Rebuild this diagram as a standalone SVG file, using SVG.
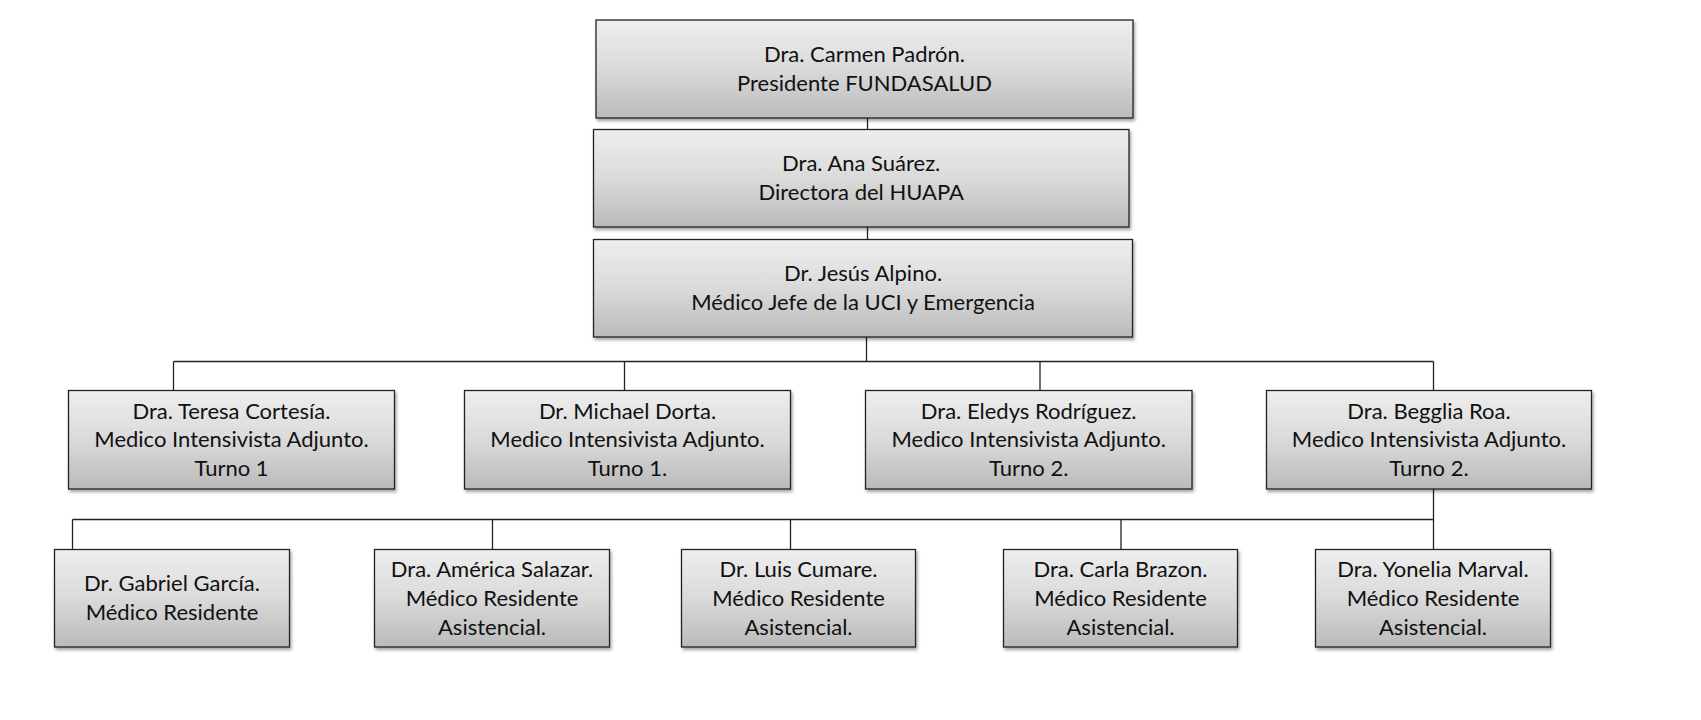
<svg xmlns="http://www.w3.org/2000/svg" width="1701" height="720" viewBox="0 0 1701 720">
<defs>
<linearGradient id="g" x1="0" y1="0" x2="0" y2="1">
<stop offset="0" stop-color="#eeeeee"/>
<stop offset="0.5" stop-color="#dadada"/>
<stop offset="1" stop-color="#bababa"/>
</linearGradient>
<filter id="sh" x="-5%" y="-5%" width="110%" height="120%">
<feDropShadow dx="1.5" dy="2.5" stdDeviation="1.5" flood-color="#000" flood-opacity="0.35"/>
</filter>
</defs>
<style>
.box{fill:url(#g);stroke:#222;stroke-width:1.3;filter:url(#sh)}
.t{font-family:Lato,"Liberation Sans",sans-serif;font-size:22px;fill:#111;text-anchor:middle}
.c{stroke:#222;stroke-width:1.3;fill:none}
</style>
<rect width="1701" height="720" fill="#fff"/>
<g id="connectors">
<line class="c" x1="867.5" y1="118" x2="867.5" y2="129.5"/>
<line class="c" x1="867.5" y1="227" x2="867.5" y2="239.5"/>
<line class="c" x1="866.5" y1="337" x2="866.5" y2="361.5"/>
<line class="c" x1="173.5" y1="361.5" x2="1433.5" y2="361.5"/>
<line class="c" x1="173.5" y1="361.5" x2="173.5" y2="390.5"/>
<line class="c" x1="624.5" y1="361.5" x2="624.5" y2="390.5"/>
<line class="c" x1="1040" y1="361.5" x2="1040" y2="390.5"/>
<line class="c" x1="1433.5" y1="361.5" x2="1433.5" y2="390.5"/>
<line class="c" x1="1433.5" y1="489" x2="1433.5" y2="549.5"/>
<line class="c" x1="72.5" y1="519.5" x2="1433.5" y2="519.5"/>
<line class="c" x1="72.5" y1="519.5" x2="72.5" y2="549.5"/>
<line class="c" x1="492.5" y1="519.5" x2="492.5" y2="549.5"/>
<line class="c" x1="790.5" y1="519.5" x2="790.5" y2="549.5"/>
<line class="c" x1="1121" y1="519.5" x2="1121" y2="549.5"/>
</g>
<g id="n-padron">
<rect class="box" x="596" y="20" width="537" height="98"/>
<text class="t" x="864.5" y="62.2">Dra. Carmen Padrón.</text>
<text class="t" x="864.5" y="90.9">Presidente FUNDASALUD</text>
</g>
<g id="n-suarez">
<rect class="box" x="593.5" y="129.5" width="535.5" height="97.5"/>
<text class="t" x="861.2" y="171.4">Dra. Ana Suárez.</text>
<text class="t" x="861.2" y="200.1">Directora del HUAPA</text>
</g>
<g id="n-alpino">
<rect class="box" x="593.5" y="239.5" width="539" height="97.5"/>
<text class="t" x="863" y="281.4">Dr. Jesús Alpino.</text>
<text class="t" x="863" y="310.1">Médico Jefe de la UCI y Emergencia</text>
</g>
<g id="n-cortesia">
<rect class="box" x="68.5" y="390.5" width="326" height="98.5"/>
<text class="t" x="231.5" y="418.6">Dra. Teresa Cortesía.</text>
<text class="t" x="231.5" y="447.3">Medico Intensivista Adjunto.</text>
<text class="t" x="231.5" y="476">Turno 1</text>
</g>
<g id="n-dorta">
<rect class="box" x="464.5" y="390.5" width="326" height="98.5"/>
<text class="t" x="627.5" y="418.6">Dr. Michael Dorta.</text>
<text class="t" x="627.5" y="447.3">Medico Intensivista Adjunto.</text>
<text class="t" x="627.5" y="476">Turno 1.</text>
</g>
<g id="n-rodriguez">
<rect class="box" x="865.5" y="390.5" width="326.5" height="98.5"/>
<text class="t" x="1028.7" y="418.6">Dra. Eledys Rodríguez.</text>
<text class="t" x="1028.7" y="447.3">Medico Intensivista Adjunto.</text>
<text class="t" x="1028.7" y="476">Turno 2.</text>
</g>
<g id="n-roa">
<rect class="box" x="1266.5" y="390.5" width="325" height="98.5"/>
<text class="t" x="1429" y="418.6">Dra. Begglia Roa.</text>
<text class="t" x="1429" y="447.3">Medico Intensivista Adjunto.</text>
<text class="t" x="1429" y="476">Turno 2.</text>
</g>
<g id="n-garcia">
<rect class="box" x="54.5" y="549.5" width="235" height="97.5"/>
<text class="t" x="172" y="591.4">Dr. Gabriel García.</text>
<text class="t" x="172" y="620.1">Médico Residente</text>
</g>
<g id="n-salazar">
<rect class="box" x="374.5" y="549.5" width="235" height="97.5"/>
<text class="t" x="492" y="577.1">Dra. América Salazar.</text>
<text class="t" x="492" y="605.8">Médico Residente</text>
<text class="t" x="492" y="634.5">Asistencial.</text>
</g>
<g id="n-cumare">
<rect class="box" x="681.5" y="549.5" width="234" height="97.5"/>
<text class="t" x="798.5" y="577.1">Dr. Luis Cumare.</text>
<text class="t" x="798.5" y="605.8">Médico Residente</text>
<text class="t" x="798.5" y="634.5">Asistencial.</text>
</g>
<g id="n-brazon">
<rect class="box" x="1003.5" y="549.5" width="234" height="97.5"/>
<text class="t" x="1120.5" y="577.1">Dra. Carla Brazon.</text>
<text class="t" x="1120.5" y="605.8">Médico Residente</text>
<text class="t" x="1120.5" y="634.5">Asistencial.</text>
</g>
<g id="n-marval">
<rect class="box" x="1315.5" y="549.5" width="235" height="97.5"/>
<text class="t" x="1433" y="577.1">Dra. Yonelia Marval.</text>
<text class="t" x="1433" y="605.8">Médico Residente</text>
<text class="t" x="1433" y="634.5">Asistencial.</text>
</g>
</svg>
